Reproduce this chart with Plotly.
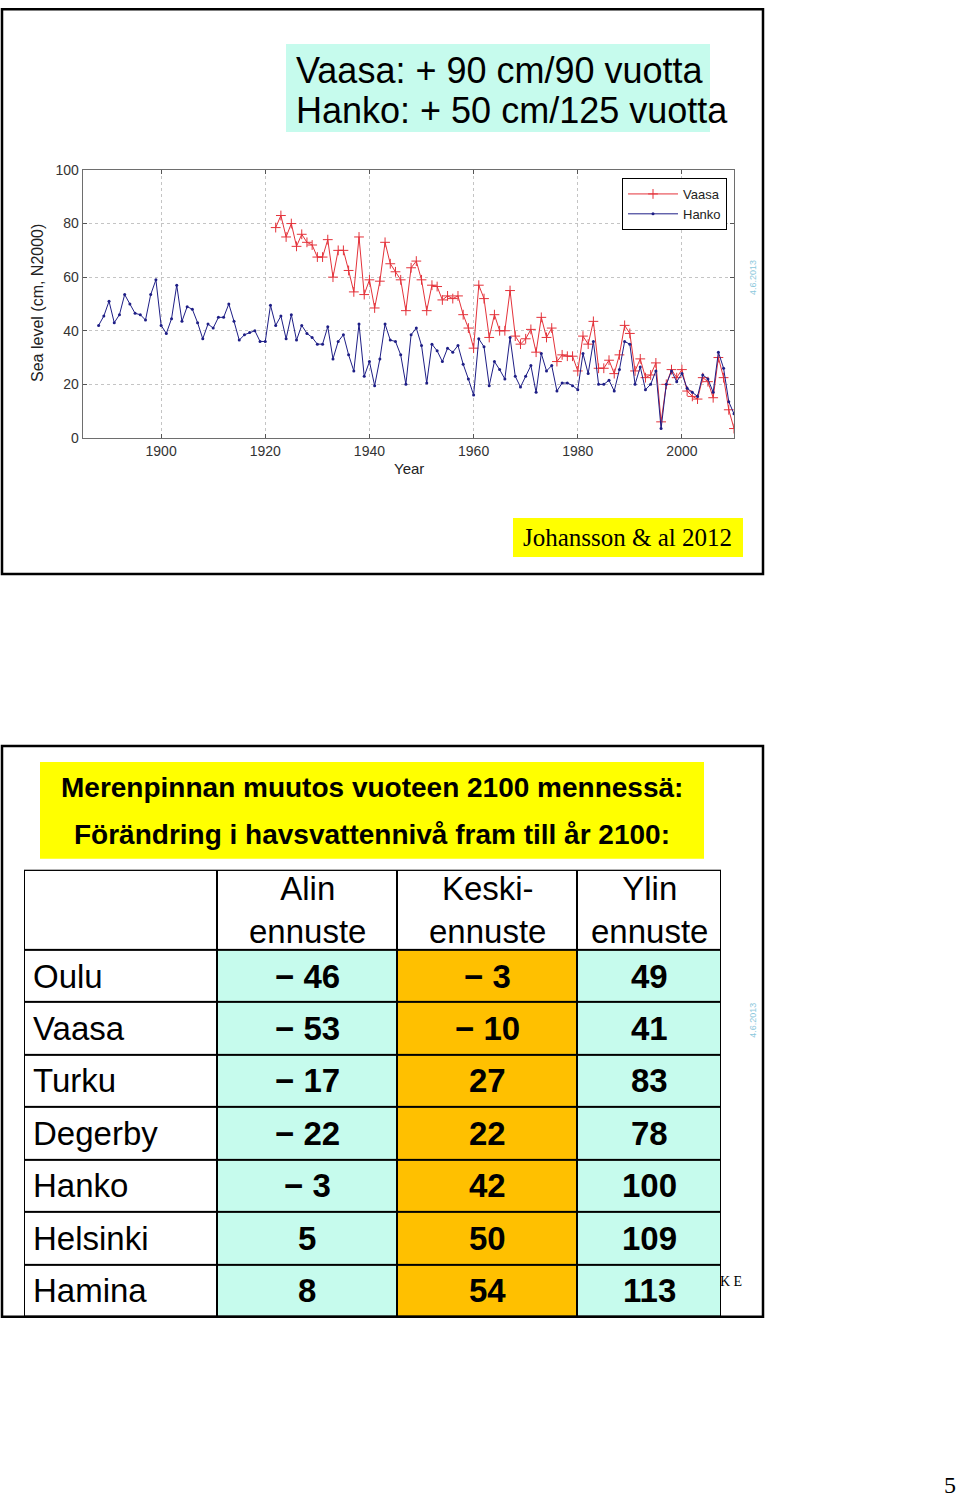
import plotly.graph_objects as go

# ---------------- data ----------------
hanko_start = 1888
hanko = [42, 45.5, 51, 43, 46, 53.5, 50, 46.5, 46, 44, 53.5, 59,
         42, 39, 44.5, 57, 43.5, 49, 48, 43, 37, 42.5,
         41, 45, 45, 50, 43.5, 36.5, 38.5, 39.3, 40, 36,
         36, 49.5, 42, 45.5, 37, 46, 36.5, 42, 39, 37.5,
         35, 35, 41.5, 29.5, 36, 38.5, 31, 25, 42.5, 23,
         28.5, 19.5, 29.5, 42.5, 36.5, 36, 31, 20, 38.5, 41,
         34.5, 20.5, 35, 32.5, 28.5, 33.5, 32, 34.5, 27.5, 22,
         16, 37, 34, 19.5, 28.5, 25.5, 22, 37.5, 23, 19,
         23, 27, 17, 31.5, 25, 27, 17.5, 20.5, 20.5, 19.5,
         18, 31.5, 24, 36, 20, 20, 21.5, 17.5, 25.5, 36,
         35, 20, 26.5, 18, 20, 25, 3.5, 20, 25, 21,
         24, 18.5, 17, 15.5, 23.5, 22, 17, 32, 26, 13.5, 9]
vaasa_start = 1922
vaasa = [78.5, 83, 75, 80, 71.5, 76, 73, 72,
         67.5, 67.5, 74, 60, 70, 70, 62.5, 54.5, 75, 53.5,
         59, 48.5, 58.5, 73, 65, 62, 59, 47.5, 63.5, 66,
         59, 47.5, 57, 56.5, 51.5, 53, 52, 53, 46, 41,
         33.5, 57, 52, 37.5, 46, 40, 40, 55, 38, 35,
         37, 40.5, 32, 45, 37.5, 41, 28.5, 31, 30.5, 30.5,
         25, 38, 35, 43.5, 26, 26, 29, 24, 31, 42,
         39, 25, 29.5, 22.5, 23.5, 28, 6, 20, 25.5, 22.5,
         25.5, 17.5, 15.5, 14.5, 22.5, 21, 15, 30, 22.5, 10.5, 3.5]
hanko_years = list(range(hanko_start, hanko_start + len(hanko)))
vaasa_years = list(range(vaasa_start, vaasa_start + len(vaasa)))

x_ticks = [1900, 1920, 1940, 1960, 1980, 2000]
y_ticks = [0, 20, 40, 60, 80, 100]

stations = ["Oulu", "Vaasa", "Turku", "Degerby", "Hanko", "Helsinki", "Hamina"]
alin = [-46, -53, -17, -22, -3, 5, 8]
keski = [-3, -10, 27, 22, 42, 50, 54]
ylin = [49, 41, 83, 78, 100, 109, 113]
headers = ["", "Alin<br>ennuste", "Keski-<br>ennuste", "Ylin<br>ennuste"]

# ---------------- styles / layout constants ----------------
W, H = 960, 1501
# the page photo lands ~7px lower and ~1% shorter: place items accordingly
OFF, SC = 7.0, 0.9895
def X(p): return p / W
def Y(p):
    f = (p - OFF) / SC
    f = min(max(f, 0.0), H)
    return 1 - f / H

RED = "#e4323a"
BLUE = "#1e1e86"
CYAN = "#c6fbed"
ORANGE = "#ffc000"
YELLOW = "#ffff00"
SANS = "Liberation Sans, Arial, sans-serif"
SERIF = "Liberation Serif, Times New Roman, serif"

col_w = [193, 180, 180, 144]
row_h = [80] + [52.4] * len(stations)

def fmt(v):
    return ("\u2212 " + str(-v)) if v < 0 else str(v)

fig = go.Figure()

fig.add_trace(go.Scatter(
    x=vaasa_years, y=vaasa, name="Vaasa", mode="lines+markers",
    line=dict(color=RED, width=1),
    marker=dict(symbol="cross-thin", size=7, line=dict(color=RED, width=1)),
    xaxis="x", yaxis="y", hoverinfo="skip"))
fig.add_trace(go.Scatter(
    x=hanko_years, y=hanko, name="Hanko", mode="lines+markers",
    line=dict(color=BLUE, width=1),
    marker=dict(symbol="circle", size=3, color=BLUE),
    xaxis="x", yaxis="y", hoverinfo="skip"))

# table cells as heatmap bricks
x_edges = [0]
for w in col_w:
    x_edges.append(x_edges[-1] + w)
y_edges = [0]
for h in row_h:
    y_edges.append(y_edges[-1] + h)
z = [[0, 0, 0, 0]] + [[0, 1, 2, 1] for _ in stations]
fig.add_trace(go.Heatmap(
    z=z, x=x_edges, y=y_edges, xaxis="x2", yaxis="y2",
    colorscale=[[0, "white"], [0.5, CYAN], [1, ORANGE]],
    zmin=0, zmax=2, showscale=False, xgap=2, ygap=2,
    hoverinfo="skip", showlegend=False))

annotations = []
def ann(text, x, y, size, family=SANS, color="black", xanchor="center",
        yanchor="middle", angle=0, xref="paper", yref="paper", yshift=0):
    annotations.append(dict(
        text=text, x=x, y=y, xref=xref, yref=yref, showarrow=False,
        xanchor=xanchor, yanchor=yanchor, textangle=angle, yshift=yshift,
        font=dict(size=size, family=family, color=color)))

# top panel texts
ann("Vaasa: + 90 cm/90 vuotta", X(294), Y(70), 36, xanchor="left")
ann("Hanko: + 50 cm/125 vuotta", X(294), Y(110), 36, xanchor="left")
ann("Johansson & al 2012", X(627), Y(537), 25, family=SERIF)
ann("Sea level (cm, N2000)", X(38), Y(302), 16, color="#222", angle=-90)
ann("Year", X(409), Y(468), 15, color="#222")
ann("4.6.2013", X(753), Y(277), 9, color="#8cc8dc", angle=-90)

# bottom panel texts
ann("<b>Merenpinnan muutos vuoteen 2100 mennessä:</b>", X(372), Y(787), 28)
ann("<b>Förändring i havsvattennivå fram till år 2100:</b>", X(372), Y(834), 28)
ann("4.6.2013", X(753), Y(1020), 9, color="#8cc8dc", angle=-90)
ann("K E", X(731), Y(1281), 14, family=SERIF)
ann("5", X(958), 0, 24, family=SERIF, xanchor="right", yanchor="bottom", yshift=-7)

# table texts
for j, htxt in enumerate(headers):
    if htxt:
        ann(htxt, (x_edges[j] + x_edges[j + 1]) / 2, (y_edges[0] + y_edges[1]) / 2,
            33, xref="x2", yref="y2")
for i, name in enumerate(stations):
    yc = (y_edges[i + 1] + y_edges[i + 2]) / 2
    ann(name, x_edges[0] + 7, yc, 33, xanchor="left", xref="x2", yref="y2")
    for j, col in enumerate([alin, keski, ylin]):
        ann("<b>" + fmt(col[i]) + "</b>", (x_edges[j + 1] + x_edges[j + 2]) / 2, yc,
            33, xref="x2", yref="y2")

shapes = [
    dict(type="rect", xref="paper", yref="paper", x0=X(2), x1=X(763), y0=Y(573),
         y1=1 - 1.3 / H, line=dict(color="black", width=2.5)),
    dict(type="rect", xref="paper", yref="paper", x0=X(286), x1=X(710), y0=Y(131), y1=Y(43),
         fillcolor=CYAN, line=dict(width=0), layer="below"),
    dict(type="rect", xref="paper", yref="paper", x0=X(513), x1=X(743), y0=Y(556), y1=Y(517),
         fillcolor=YELLOW, line=dict(width=0), layer="below"),
    dict(type="rect", xref="paper", yref="paper", x0=X(2), x1=X(763), y0=Y(1316), y1=Y(745),
         line=dict(color="black", width=2.5)),
    dict(type="rect", xref="paper", yref="paper", x0=X(40), x1=X(704), y0=Y(858), y1=Y(761),
         fillcolor=YELLOW, line=dict(width=0), layer="below"),
    dict(type="rect", xref="x2", yref="y2", x0=x_edges[0], x1=x_edges[-1],
         y0=y_edges[0], y1=y_edges[-1], fillcolor="black", line=dict(width=0), layer="below"),
    dict(type="rect", xref="x2", yref="y2", x0=x_edges[0], x1=x_edges[-1],
         y0=y_edges[0], y1=y_edges[-1], line=dict(color="black", width=2)),
]

axis_common = dict(
    ticks="inside", ticklen=4, tickcolor="#555", showline=True, linecolor="#6e6e6e",
    linewidth=1.3, mirror="ticks", showgrid=True, gridcolor="#c4c4c4", griddash="dot",
    gridwidth=1, zeroline=False, tickfont=dict(size=14, family=SANS, color="#333"))

fig.update_layout(
    width=W, height=H, margin=dict(l=0, r=0, t=0, b=0),
    paper_bgcolor="white", plot_bgcolor="white",
    xaxis=dict(domain=[X(83), X(734)], range=[1885, 2010], tickvals=x_ticks,
               anchor="y", **axis_common),
    yaxis=dict(domain=[Y(437), Y(169)], range=[0, 100], tickvals=y_ticks,
               anchor="x", **axis_common),
    xaxis2=dict(domain=[X(24), X(721)], range=[x_edges[0], x_edges[-1]], visible=False,
                anchor="y2", fixedrange=True),
    yaxis2=dict(domain=[Y(1316), Y(869)], range=[y_edges[-1], y_edges[0]], visible=False,
                anchor="x2", fixedrange=True),
    legend=dict(x=X(727), y=Y(177), xanchor="right", yanchor="top",
                bordercolor="black", borderwidth=1, bgcolor="white",
                font=dict(size=13, family=SANS, color="#222"),
                tracegroupgap=0, itemwidth=50),
    annotations=annotations, shapes=shapes, showlegend=True,
)

page_fix = ("var gd=document.getElementById('{plot_id}');"
            "gd.style.position='absolute';gd.style.left='0px';gd.style.top='0px';"
            "document.body.style.margin='0px';document.body.style.padding='0px';"
            "document.body.style.overflow='hidden';")
fig.write_html("out.html", config={"displayModeBar": False, "staticPlot": True},
               post_script=page_fix)
